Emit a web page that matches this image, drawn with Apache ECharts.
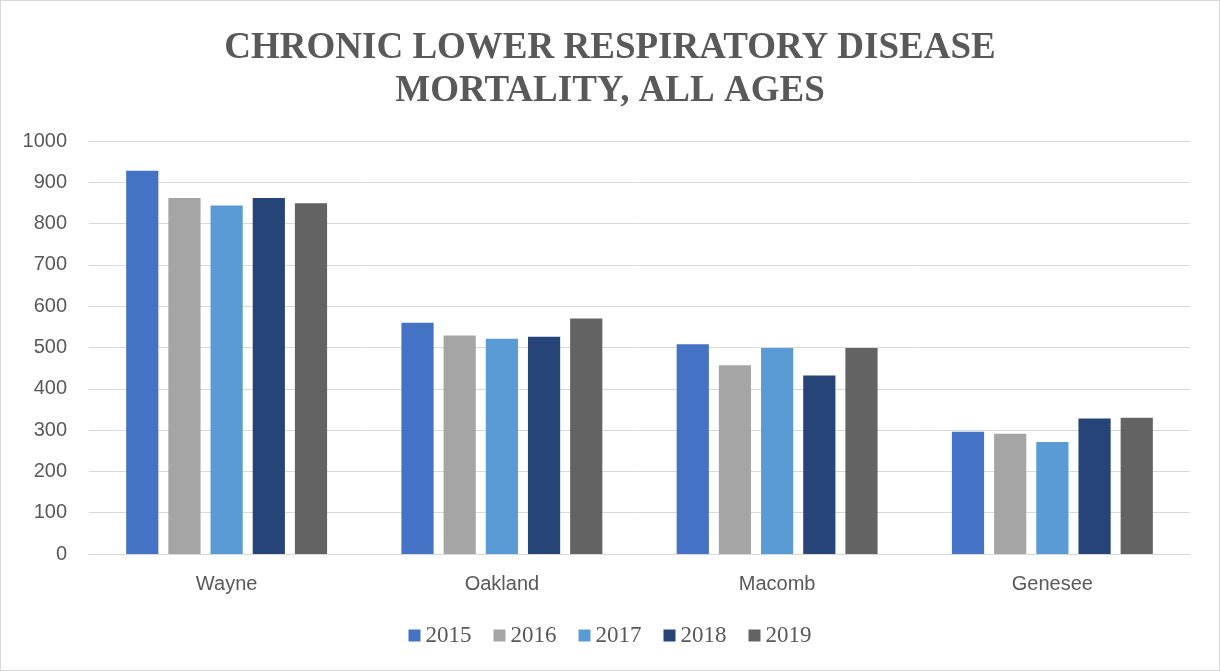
<!DOCTYPE html>
<html>
<head>
<meta charset="utf-8">
<script src="https://cdn.jsdelivr.net/npm/echarts@6/dist/echarts.min.js"></script>
<style>
  html, body { margin: 0; padding: 0; background: #fff; }
  #main { width: 1218px; height: 669px; border: 1px solid #d9d9d9; }
</style>
</head>
<body>
<div id="main"></div>
<script>
// counties on the x axis
var counties = ['Wayne', 'Oakland', 'Macomb', 'Genesee'];
var years = ['2015', '2016', '2017', '2018', '2019'];
// deaths per year, one value per county
var y2015 = [928, 560, 508, 296];
var y2016 = [862, 529, 457, 291];
var y2017 = [844, 521, 499, 271];
var y2018 = [862, 526, 432, 328];
var y2019 = [849, 570, 499, 330];
var colors = ['#4472C4', '#A5A5A5', '#5B9BD5', '#264478', '#636363'];

var allData = [y2015, y2016, y2017, y2018, y2019];

var myChart = echarts.init(document.getElementById('main'));

var series = [];
for (var i = 0; i < years.length; i++) {
    series.push({
        name: years[i],
        type: 'bar',
        data: allData[i],
        barGap: '31%',
        barCategoryGap: '27%',
        itemStyle: { color: colors[i] }
    });
}

myChart.setOption({
    color: colors,
    title: {
        text: 'CHRONIC LOWER RESPIRATORY DISEASE\nMORTALITY, ALL AGES',
        left: 'center',
        top: 21,
        textStyle: {
            fontFamily: 'Liberation Serif',
            fontWeight: 'bold',
            fontSize: 37,
            lineHeight: 43,
            color: '#595959'
        }
    },
    legend: {
        data: years,
        bottom: 18,
        left: 'center',
        itemWidth: 12,
        itemHeight: 12,
        itemGap: 22,
        icon: 'rect',
        textStyle: {
            fontFamily: 'Liberation Serif',
            fontSize: 23,
            color: '#595959'
        }
    },
    grid: {
        left: 88,
        right: 29,
        top: 140,
        bottom: 116
    },
    xAxis: {
        type: 'category',
        data: counties,
        axisLine: { lineStyle: { color: '#d9d9d9', width: 1 } },
        axisTick: { show: false },
        axisLabel: {
            fontFamily: 'Liberation Sans',
            fontSize: 20,
            color: '#595959',
            margin: 20
        }
    },
    yAxis: {
        type: 'value',
        min: 0,
        max: 1000,
        interval: 100,
        axisLine: { show: false },
        axisTick: { show: false },
        splitLine: { lineStyle: { color: '#d9d9d9', width: 1 } },
        axisLabel: {
            fontFamily: 'Liberation Sans',
            fontSize: 20,
            color: '#595959',
            margin: 22,
            formatter: function (v) { return String(v); }
        }
    },
    series: series
});
</script>
</body>
</html>
